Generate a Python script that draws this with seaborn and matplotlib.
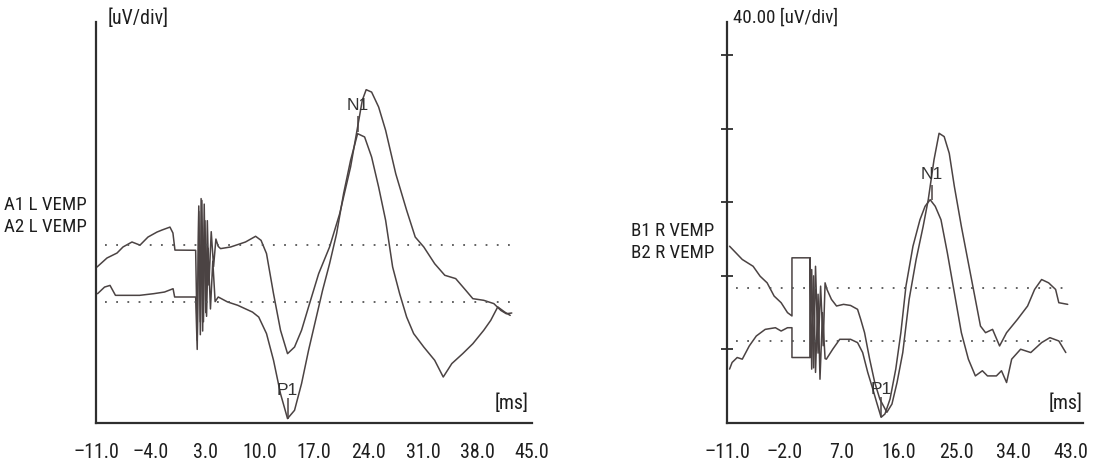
import numpy as np
import pandas as pd
import matplotlib
matplotlib.use("Agg")
import matplotlib.pyplot as plt
import seaborn as sns

# ---------------- data (latency in ms, amplitude in uV) ----------------
A1_t = [-10.87, -9.59, -8.30, -7.53, -6.38, -5.35, -4.32, -3.17, -2.53, -1.50, -1.12, -0.86, 1.8,
        2.0, 2.2, 2.4, 2.5, 2.7, 2.9, 3.1, 3.3, 3.5, 3.8, 4.1, 4.4, 4.7,
        5.0, 6.3, 8.2, 9.5, 10.2, 10.9, 11.8, 12.7, 13.6, 14.5, 15.4, 16.3, 17.6, 19.0, 20.3, 21.7,
        22.6, 23.2, 23.7, 24.4, 25.3, 26.2, 27.5, 28.9, 30.0, 31.1, 32.5, 33.8, 35.2, 36.5, 37.4,
        38.8, 40.1, 41.0, 41.7, 42.4]
A1_v = [84.8, 89.7, 92.4, 95.7, 98.4, 96.7, 101.1, 103.8, 104.9, 106.5, 103.3, 94.0, 93.9,
        45, 115, 55, 122, 50, 119, 60, 110, 75, 104, 85, 100, 96,
        94.8, 95.7, 98.4, 101.5, 99.3, 92.1, 70.3, 50.4, 37.7, 41.3, 50.4, 63.1, 81.2, 95.7, 113.8, 139.2,
        160.9, 175.4, 181.2, 179.9, 171.8, 159.1, 135.5, 115.6, 101.1, 95.7, 86.6, 80.3, 78.5, 72.1, 67.6,
        66.7, 64.9, 61.2, 59.4, 59.8]

A2_t = [-10.8, -9.9, -9.2, -8.5, -7.2, -5.4, -3.6, -2.2, -1.1, -0.9, 1.8,
        2.0, 2.2, 2.4, 2.6, 2.8, 3.0, 3.2, 3.4, 3.7, 4.0, 4.3, 4.7,
        5.9, 7.2, 9.1, 9.9, 10.9, 11.8, 12.7, 13.6, 14.5, 15.4, 16.3, 17.2, 18.1, 19.0, 19.9, 20.8,
        21.7, 22.6, 23.5, 24.4, 25.3, 26.2, 27.1, 28.0, 28.9, 29.8, 31.1, 32.5, 33.6, 34.7, 36.1,
        37.4, 38.8, 39.7, 40.6, 41.5, 42.2]
A2_v = [70.3, 73.9, 74.8, 69.4, 69.4, 69.4, 70.3, 71.2, 73.0, 68.5, 68.5,
        40, 118, 48, 121, 55, 110, 58, 95, 62, 88, 66, 68.5,
        65.8, 64.0, 60.3, 57.6, 48.6, 34.1, 15.9, 2.4, 6.9, 21.4, 39.5, 55.8, 72.1, 86.6, 102.9, 124.7,
        142.8, 157.3, 155.5, 144.6, 128.3, 110.2, 84.8, 70.3, 57.6, 48.6, 41.3, 34.1, 25.0, 32.3, 37.7,
        43.1, 50.4, 55.8, 63.1, 60.3, 58.5]

B1_t = [-10.6, -9.6, -8.6, -6.9, -5.8, -4.7, -3.6, -2.5, -1.5, -0.8, -0.8, 2.05, 2.05,
        2.3, 2.6, 2.9, 3.3, 3.7, 4.1, 4.4, 4.7,
        5.4, 6.2, 7.3, 8.4, 9.5, 10.0, 10.6, 11.4, 12.2, 13.0, 14.1, 14.9, 15.7, 16.6, 17.6, 18.7,
        19.8, 20.6, 21.5, 22.3, 23.1, 23.9, 24.7, 25.8, 26.9, 27.7, 28.8, 29.6, 30.7, 31.8, 32.9,
        34.6, 36.2, 37.3, 38.4, 39.5, 40.6, 41.1, 42.5]
B1_v = [96.1, 92.5, 88.9, 85.2, 79.8, 76.2, 69.0, 65.4, 60.0, 58.2, 89.8, 89.8, 35.6,
        83.4, 30.0, 85.2, 38.0, 74.4, 42.0, 76.2, 72.6,
        67.2, 63.6, 64.5, 63.9, 61.8, 56.3, 49.1, 34.7, 22.0, 13.0, 5.8, 10.3, 22.0, 38.3, 67.2, 88.9,
        106.9, 121.4, 143.0, 157.5, 155.7, 146.6, 128.6, 106.9, 87.0, 72.6, 52.7, 49.1, 50.9, 41.9, 49.1,
        56.3, 63.6, 72.6, 78.0, 76.2, 72.6, 65.4, 64.5]

B2_t = [-10.6, -10.2, -9.4, -8.6, -7.5, -6.4, -5.0, -3.4, -2.5, -1.5, -0.8, -0.8, 2.05, 2.05,
        2.3, 2.6, 2.9, 3.3, 3.6, 4.0, 4.4,
        4.6, 5.6, 6.7, 8.4, 9.5, 10.3, 11.1, 11.9, 12.5, 13.2, 13.8, 14.6, 15.5, 16.3, 17.1, 18.2,
        19.3, 20.1, 20.9, 21.7, 22.6, 23.6, 24.7, 25.8, 26.9, 28.0, 29.1, 29.9, 31.3, 32.1, 32.9,
        33.7, 35.1, 36.7, 38.4, 39.7, 41.1, 42.2]
B2_v = [29.3, 32.9, 35.6, 34.7, 41.9, 47.3, 50.9, 51.8, 50.0, 51.8, 51.8, 35.6, 35.6, 89.8,
        29.3, 80.0, 27.5, 70.0, 23.8, 60.0, 35.0,
        34.7, 40.1, 45.5, 45.5, 43.7, 38.3, 27.5, 18.4, 11.2, 3.1, 4.9, 13.0, 29.3, 49.1, 74.4, 96.1,
        110.5, 117.8, 121.4, 117.8, 110.5, 92.5, 70.8, 49.1, 34.7, 25.6, 28.4, 25.6, 25.6, 28.4, 22.0,
        34.7, 40.1, 38.3, 43.7, 46.4, 44.6, 38.3]

# baselines (dotted) : level, start, end
left_base = [96.9, 65.8]
left_base_span = [-9.8, 42.4]
right_base = [73.5, 44.6]
right_base_span = [-9.6, 42.7]

# peak markers: label, latency, label amplitude, tick top, tick bottom
left_marks_lbl = ["N1", "P1"]
left_marks_t = [22.6, 13.6]
left_marks_lv = [172.5, 17.8]
left_marks_top = [167.0, 13.5]
left_marks_bot = [158.0, 2.0]
right_marks_lbl = ["N1", "P1"]
right_marks_t = [21.2, 13.2]
right_marks_lv = [135.0, 18.4]
right_marks_top = [129.5, 14.0]
right_marks_bot = [121.4, 3.0]

left_xticks = [-11.0, -4.0, 3.0, 10.0, 17.0, 24.0, 31.0, 38.0, 45.0]
right_xticks = [-11.0, -2.0, 7.0, 16.0, 25.0, 34.0, 43.0]
right_yticks = [40, 80, 120, 160, 200]

left_names = ["A1 L VEMP", "A2 L VEMP"]
right_names = ["B1 R VEMP", "B2 R VEMP"]

assert len(A1_t) == len(A1_v) and len(A2_t) == len(A2_v)
assert len(B1_t) == len(B1_v) and len(B2_t) == len(B2_v)

# ---------------- style ----------------
sns.set_style("white")
FONT = ["Roboto Condensed", "Liberation Sans Narrow", "Liberation Sans", "DejaVu Sans"]
plt.rcParams["font.family"] = FONT
plt.rcParams["axes.unicode_minus"] = True

TRACE = "#4b4343"
AXC = "#2e2e2e"
TXT = "#1e1e1e"
FS = 14.3

fig = plt.figure(figsize=(10.93, 4.65), dpi=100)
W, H = 1093, 465
axL = fig.add_axes([96 / W, 42 / H, 436 / W, 401 / H])
axR = fig.add_axes([727 / W, 42 / H, 356 / W, 401 / H])


def make_df(ts, vs, names):
    frames = []
    for t, v, n in zip(ts, vs, names):
        frames.append(pd.DataFrame({"t": t, "v": v, "trace": n}))
    return pd.concat(frames, ignore_index=True)


dfL = make_df([A1_t, A2_t], [A1_v, A2_v], left_names)
dfR = make_df([B1_t, B2_t], [B1_v, B2_v], right_names)

for ax, df, names in [(axL, dfL, left_names), (axR, dfR, right_names)]:
    sns.lineplot(data=df, x="t", y="v", hue="trace", palette={n: TRACE for n in names},
                 estimator=None, sort=False, legend=False, linewidth=1.1, ax=ax)

# dotted baselines
for ax, base, span in [(axL, left_base, left_base_span), (axR, right_base, right_base_span)]:
    ax.hlines(base, span[0], span[1], colors="#555555", linewidth=1.3,
              linestyles=(0, (1, 5.2)))

# peak markers
for ax, lbl, mt, lv, top, bot in [
    (axL, left_marks_lbl, left_marks_t, left_marks_lv, left_marks_top, left_marks_bot),
    (axR, right_marks_lbl, right_marks_t, right_marks_lv, right_marks_top, right_marks_bot),
]:
    ax.vlines(mt, bot, top, colors=TRACE, linewidth=1.1)
    for s, x, y in zip(lbl, mt, lv):
        ax.text(x, y, s, ha="center", va="center", fontsize=12.5, color="#333333",
                family=["Liberation Sans", "DejaVu Sans"])

# axes styling
for ax, xt, xmax in [(axL, left_xticks, 45.0), (axR, right_xticks, 44.9)]:
    ax.set_xlim(-11.0, xmax)
    ax.set_ylim(0, 218)
    ax.set_xticks(xt)
    ax.set_xticklabels([f"{v:.1f}".replace("-", "\u2013") for v in xt])
    ax.set_xlabel("")
    ax.set_ylabel("")
    for s in ["top", "right"]:
        ax.spines[s].set_visible(False)
    for s in ["left", "bottom"]:
        ax.spines[s].set_color(AXC)
        ax.spines[s].set_linewidth(1.6)
    ax.tick_params(axis="x", direction="inout", length=7, width=1.3, color=AXC,
                   labelsize=FS, labelcolor=TXT, pad=11)
    ax.set_facecolor("none")

axL.text(0.991, 0.05, "[ms]", transform=axL.transAxes, ha="right", va="center",
         fontsize=FS, color=TXT)
axR.text(1.0, 0.05, "[ms]", transform=axR.transAxes, ha="right", va="center",
         fontsize=FS, color=TXT)

axL.set_yticks([])
axR.set_yticks(right_yticks)
axR.set_yticklabels([])
axR.tick_params(axis="y", direction="inout", length=8, width=1.3, color=AXC, left=True)
axL.tick_params(axis="y", left=False)

# y-unit labels
fig.text(108 / W, 1 - 18 / H, "[uV/div]", ha="left", va="center", fontsize=FS, color=TXT)
fig.text(733 / W, 1 - 18 / H, "40.00 [uV/div]", ha="left", va="center", fontsize=13.6, color=TXT)

# trace names
for i, n in enumerate(left_names):
    fig.text(87 / W, 1 - (205 + 22 * i) / H, n, ha="right", va="center", fontsize=13.6, color=TXT)
for i, n in enumerate(right_names):
    fig.text(714 / W, 1 - (231 + 22 * i) / H, n, ha="right", va="center", fontsize=13.6, color=TXT)

fig.savefig("out.png", dpi=100, facecolor="white")
